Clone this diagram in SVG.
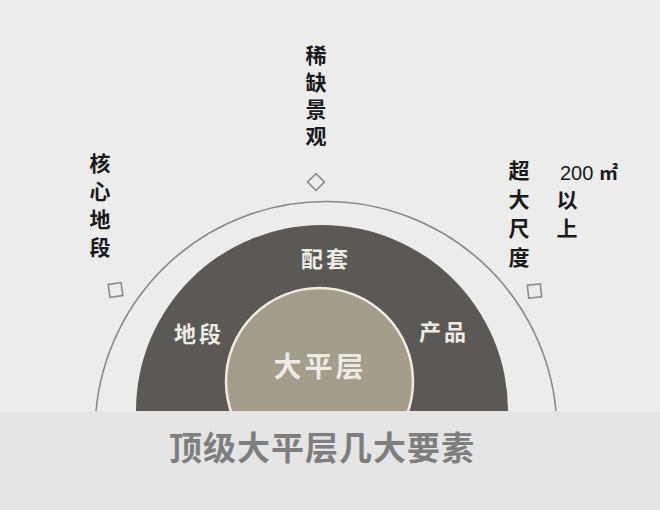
<svg xmlns="http://www.w3.org/2000/svg" width="660" height="510" viewBox="0 0 660 510">
<style>
.lbl{font-family:"Noto Sans CJK SC","Noto Sans",sans-serif;font-weight:700;fill:#1a1a1a;font-size:21px;writing-mode:vertical-rl}
.in{font-family:"Noto Sans CJK SC","Noto Sans",sans-serif;font-weight:700;fill:#ecebe4;text-anchor:middle;letter-spacing:3px}
.mark{fill:none;stroke:#8c8c8c;stroke-width:1.6}
</style>
<rect width="660" height="510" fill="#ececec"/>
<g id="outer-arc">
<path d="M96,411 A231,231 0 0 1 556,411" fill="none" stroke="#8a8a8a" stroke-width="1.6"/>
</g>
<g id="ring">
<path d="M136,411 A186,186 0 0 1 508,411 Z" fill="#5a5955"/>
<text class="in" x="326" y="267" font-size="22">配套</text>
<text class="in" x="199" y="342" font-size="22">地段</text>
<text class="in" x="444" y="340" font-size="22">产品</text>
</g>
<g id="core">
<circle cx="319.5" cy="381.5" r="93.5" fill="#a29e8b" stroke="#efebdf" stroke-width="2.5"/>
<text class="in" x="320" y="377" font-size="28" letter-spacing="4">大平层</text>
</g>
<g id="band">
<rect x="0" y="411" width="660" height="99" fill="#e5e5e5"/>
<text x="322" y="460" font-family="'Noto Sans CJK SC','Noto Sans',sans-serif" font-weight="700" font-size="33" fill="#7e7e7e" text-anchor="middle" letter-spacing="1">顶级大平层几大要素</text>
</g>
<g id="top-label">
<text class="lbl" x="316" y="45" letter-spacing="6">稀缺景观</text>
<rect class="mark" x="310" y="176" width="12" height="12" transform="rotate(45 316 182)"/>
</g>
<g id="left-label">
<text class="lbl" x="100" y="153" letter-spacing="7">核心地段</text>
<rect class="mark" x="109" y="283.5" width="13" height="13" transform="rotate(-8 115.5 290)"/>
</g>
<g id="right-label">
<text class="lbl" x="519" y="160" letter-spacing="8">超大尺度</text>
<text x="560" y="180" font-family="'Liberation Sans',sans-serif" font-size="20" fill="#1a1a1a">200 <tspan font-family="'Noto Sans CJK SC',sans-serif" font-weight="700" font-size="19">㎡</tspan></text>
<text class="lbl" x="567" y="189" letter-spacing="8">以上</text>
<rect class="mark" x="528" y="284.5" width="13" height="13" transform="rotate(-6 534.5 291)"/>
</g>
</svg>
